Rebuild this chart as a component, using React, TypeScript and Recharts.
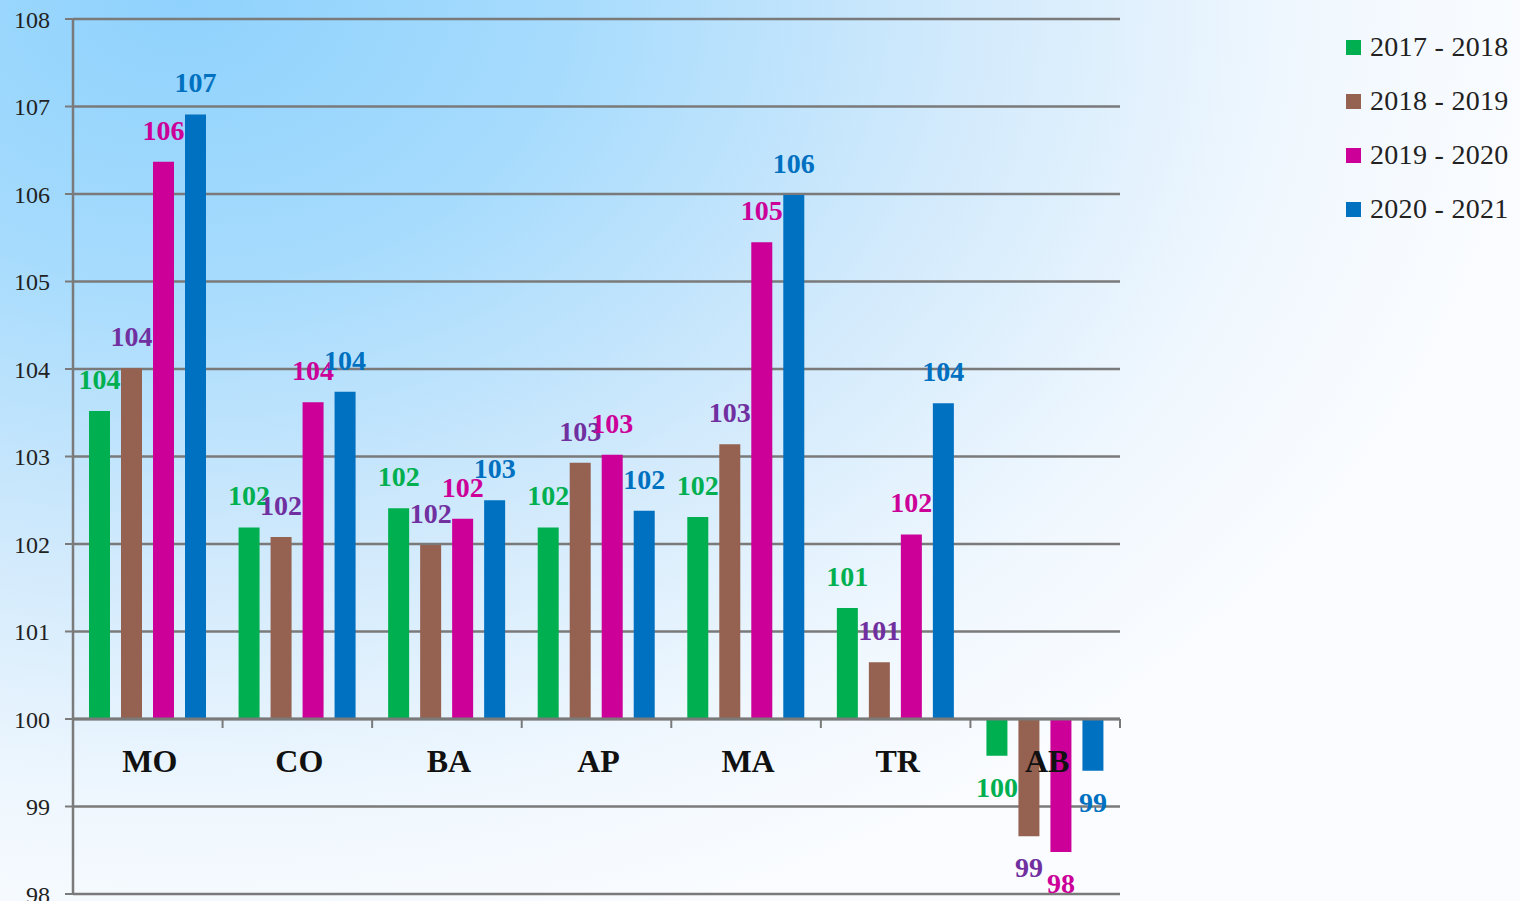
import React from "react";
import { BarChart, Bar, XAxis, YAxis, CartesianGrid, ReferenceLine, LabelList } from "recharts";

// Index values per region, base = 100
const categories = ["MO", "CO", "BA", "AP", "MA", "TR", "AB"];
const s1718 = [103.52, 102.19, 102.41, 102.19, 102.31, 101.27, 99.58];
const s1819 = [104.01, 102.08, 101.99, 102.93, 103.14, 100.65, 98.66];
const s1920 = [106.37, 103.62, 102.29, 103.02, 105.45, 102.11, 98.48];
const s2021 = [106.91, 103.74, 102.5, 102.38, 105.99, 103.61, 99.41];
const yTicks = [98, 99, 100, 101, 102, 103, 104, 105, 106, 107, 108];

const series = [
  { key: "s1718", name: "2017 - 2018", fill: "#00B050", label: "#00B050", values: s1718 },
  { key: "s1819", name: "2018 - 2019", fill: "#956251", label: "#7030A0", values: s1819 },
  { key: "s1920", name: "2019 - 2020", fill: "#CC0099", label: "#CC0099", values: s1920 },
  { key: "s2021", name: "2020 - 2021", fill: "#0070C0", label: "#0070C0", values: s2021 },
];

const data = categories.map((c, i) => {
  const row: Record<string, string | number> = { cat: c };
  series.forEach((s) => (row[s.key] = s.values[i]));
  return row;
});

const W = 1520;
const H = 901;
const X_AXIS_H = 1;
const M = { top: 19, right: 400, bottom: 6, left: 10 };
const Y_AXIS_W = 63;
const PLOT_LEFT = M.left + Y_AXIS_W;
const PLOT_W = W - M.right - PLOT_LEFT;
const PLOT_H = H - M.top - M.bottom - X_AXIS_H;
const Y_MIN = 98;
const Y_MAX = 108;
const BASE = 100;
// pixel row of the 100 baseline, where the category axis sits
const Y_BASE = M.top + (PLOT_H * (Y_MAX - BASE)) / (Y_MAX - Y_MIN);
const BAND = PLOT_W / categories.length;

const SERIF = '"Liberation Serif", "Times New Roman", serif';
const GRID = "#7a7a7a";

function CategoryTick(props: any) {
  const { x, payload } = props;
  return (
    <g>
      <line x1={x + BAND / 2} x2={x + BAND / 2} y1={Y_BASE} y2={Y_BASE + 9} stroke={GRID} strokeWidth={2} />
      <text x={x + 2} y={Y_BASE + 53} textAnchor="middle" fontFamily={SERIF} fontWeight="bold" fontSize={32} fill="#111">
        {payload.value}
      </text>
    </g>
  );
}

function makeValueLabel(color: string) {
  return (props: any) => {
    const { x, y, width, height, value } = props;
    const top = Math.min(y, y + height);
    const bottom = Math.max(y, y + height);
    const ty = value >= BASE ? top - 22 : bottom + 41;
    return (
      <text x={x + width / 2} y={ty} textAnchor="middle" fontFamily={SERIF} fontWeight="bold" fontSize={28} fill={color}>
        {Math.round(value)}
      </text>
    );
  };
}

export default function App() {
  return (
    <div
      style={{
        position: "absolute",
        left: 0,
        top: 0,
        width: W,
        height: H,
        overflow: "hidden",
        background:
          "radial-gradient(ellipse 1350px 980px at 12% 0%, #8fd2fd 0%, #a6dbfd 28%, #d2eafc 58%, #eff7fe 82%, #fafcff 100%)",
      }}
    >
      <BarChart width={W} height={H} data={data} margin={M} barSize={21} barGap={11}>
        <CartesianGrid vertical={false} stroke={GRID} strokeWidth={2.5} />
        <XAxis
          dataKey="cat"
          height={X_AXIS_H}
          axisLine={false}
          tickLine={false}
          interval={0}
          tick={(p: any) => <CategoryTick {...p} />}
        />
        <YAxis
          domain={[Y_MIN, Y_MAX]}
          ticks={yTicks}
          interval={0}
          width={Y_AXIS_W}
          axisLine={{ stroke: GRID, strokeWidth: 2.5 }}
          tickLine={{ stroke: GRID, strokeWidth: 2 }}
          tickSize={8}
          tickMargin={15}
          allowDataOverflow
          tick={{ fontFamily: SERIF, fontSize: 24, fill: "#222" }}
        />
        <ReferenceLine y={BASE} stroke={GRID} strokeWidth={3} />
        {series.map((s) => (
          <Bar
            key={s.key}
            dataKey={(d: any) => [BASE, d[s.key]]}
            name={s.name}
            fill={s.fill}
            isAnimationActive={false}
          >
            <LabelList dataKey={s.key} content={makeValueLabel(s.label)} />
          </Bar>
        ))}
      </BarChart>
      {/* Legend */}
      <div style={{ position: "absolute", left: 1346, top: 20, fontFamily: SERIF, fontSize: 28, color: "#222", letterSpacing: 0.3 }}>
        {series.map((s) => (
          <div key={s.key} style={{ display: "flex", alignItems: "center", height: 54 }}>
            <span style={{ width: 15, height: 15, background: s.fill, display: "inline-block", marginRight: 9 }} />
            <span style={{ lineHeight: "30px" }}>{s.name}</span>
          </div>
        ))}
      </div>
    </div>
  );
}
